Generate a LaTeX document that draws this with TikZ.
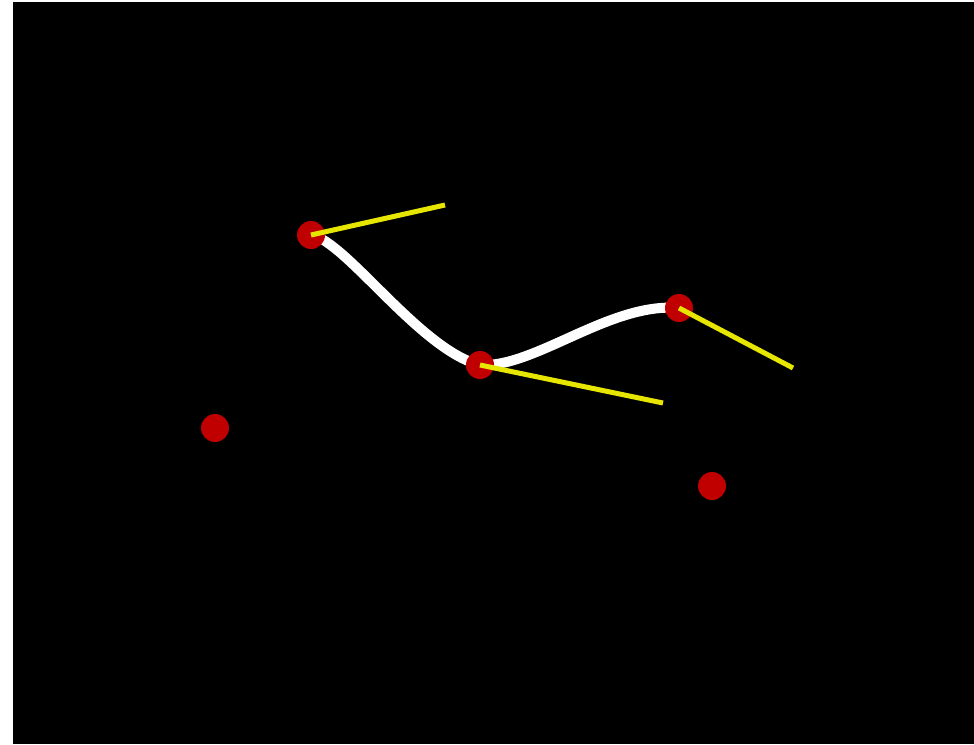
\documentclass[tikz,border=0pt]{standalone}
\definecolor{dotred}{RGB}{192,0,0}
\definecolor{lineyellow}{RGB}{230,230,0}
\tikzset{
  dotnode/.style={circle,fill=dotred,inner sep=0pt,minimum size=28pt},
  curve/.style={draw=white,line width=10pt},
  tangent/.style={draw=lineyellow,line width=5pt}
}
\begin{document}
\begin{tikzpicture}[x=1pt,y=-1pt]
\useasboundingbox (0,0) rectangle (974,744);
\fill[black] (13,2) rectangle (974,744);
\coordinate (p1) at (311,235);
\coordinate (p2) at (480,365);
\coordinate (p3) at (679,308);
\coordinate (t1) at (445,205);
\coordinate (t2) at (663,403);
\coordinate (t3) at (793,368);
\draw[curve] (p1) .. controls (345,240) and (420,350) .. (p2)
  .. controls (535,368) and (610,302) .. (p3);
\node[dotnode] (d1) at (p1) {};
\node[dotnode] (d2) at (p2) {};
\node[dotnode] (d3) at (p3) {};
\node[dotnode] (d4) at (215,428) {};
\node[dotnode] (d5) at (712,486) {};
\draw[tangent] (p1) -- (t1);
\draw[tangent] (p2) -- (t2);
\draw[tangent] (p3) -- (t3);
\end{tikzpicture}
\end{document}
